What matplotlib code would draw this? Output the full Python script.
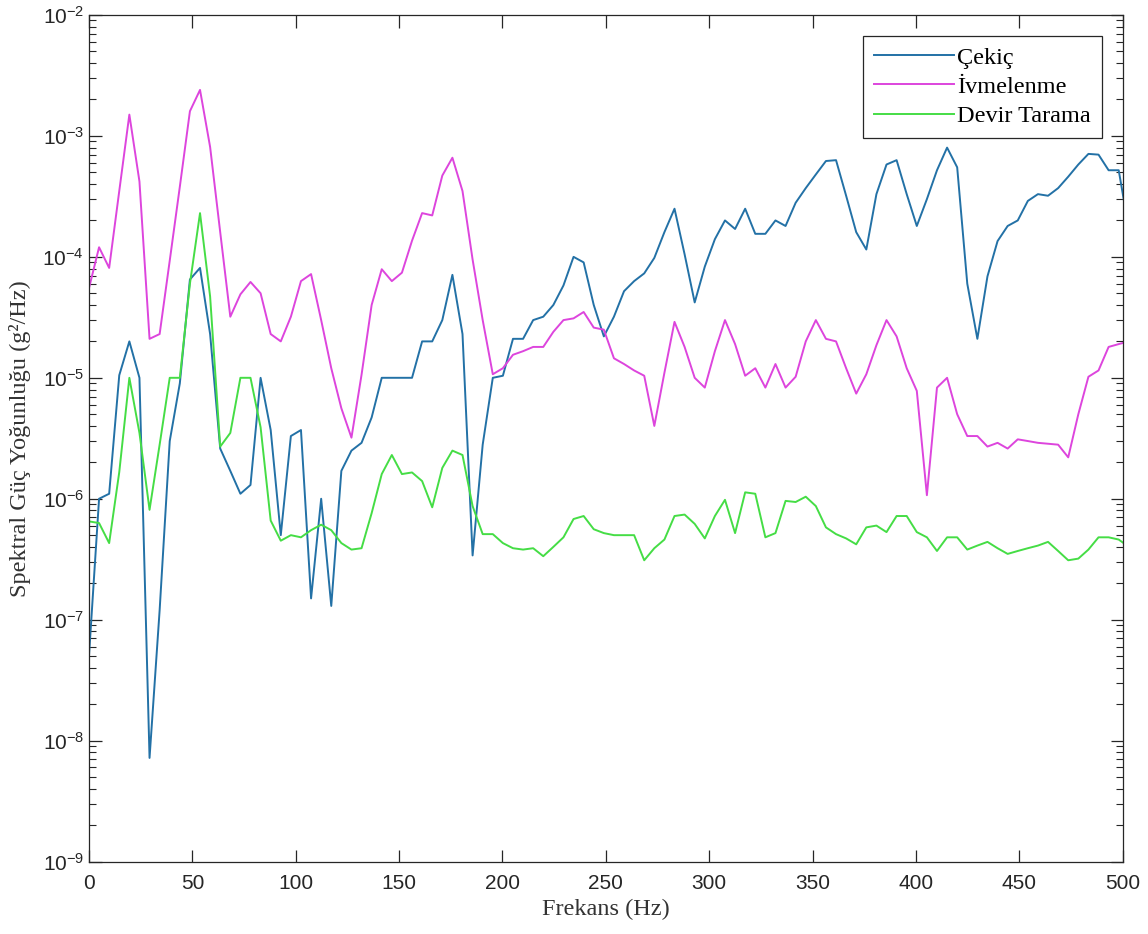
import numpy as np
import matplotlib
matplotlib.use("Agg")
from matplotlib import pyplot as plt
from matplotlib.ticker import LogLocator, NullFormatter

plt.rcParams['font.family'] = ['Liberation Sans', 'DejaVu Sans']
plt.rcParams['mathtext.fontset'] = 'custom'
plt.rcParams['mathtext.rm'] = 'Liberation Sans'
plt.rcParams['mathtext.it'] = 'Liberation Sans:italic'
plt.rcParams['mathtext.bf'] = 'Liberation Sans:bold'

# PSD estimates, one value per FFT bin (df = 5000/1024 Hz)
cekic = [5e-8, 1e-6, 1.1e-6, 1.05e-5, 2e-5, 1e-5, 7.2e-9, 1.2e-7, 3e-6, 9e-6,
         6.5e-5, 8.1e-5, 2.3e-5, 2.6e-6, 1.7e-6, 1.1e-6, 1.3e-6, 1e-5, 3.7e-6, 5e-7,
         3.3e-6, 3.7e-6, 1.5e-7, 1e-6, 1.3e-7, 1.7e-6, 2.5e-6, 2.9e-6, 4.7e-6, 1e-5,
         1e-5, 1e-5, 1e-5, 2e-5, 2e-5, 3e-5, 7.1e-5, 2.3e-5, 3.4e-7, 2.8e-6,
         1e-5, 1.04e-5, 2.1e-5, 2.1e-5, 3e-5, 3.2e-5, 4e-5, 5.8e-5, 1e-4, 9e-5,
         4e-5, 2.2e-5, 3.2e-5, 5.2e-5, 6.3e-5, 7.3e-5, 9.8e-5, 1.6e-4, 2.5e-4, 1.05e-4,
         4.2e-5, 8.3e-5, 1.4e-4, 2e-4, 1.7e-4, 2.5e-4, 1.55e-4, 1.55e-4, 2e-4, 1.8e-4,
         2.8e-4, 3.7e-4, 4.8e-4, 6.2e-4, 6.3e-4, 3.2e-4, 1.6e-4, 1.15e-4, 3.3e-4, 5.8e-4,
         6.3e-4, 3.3e-4, 1.8e-4, 3e-4, 5.2e-4, 8e-4, 5.5e-4, 6e-5, 2.1e-5, 6.9e-5,
         1.35e-4, 1.8e-4, 2e-4, 2.9e-4, 3.3e-4, 3.2e-4, 3.7e-4, 4.6e-4, 5.8e-4, 7.1e-4,
         7e-4, 5.2e-4, 5.2e-4, 1.7e-4]

ivmelenme = [5.5e-5, 1.2e-4, 8.1e-5, 3.5e-4, 1.5e-3, 4.2e-4, 2.1e-5, 2.3e-5, 9.3e-5, 3.8e-4,
             1.6e-3, 2.4e-3, 8.1e-4, 1.6e-4, 3.2e-5, 4.9e-5, 6.2e-5, 5e-5, 2.3e-5, 2e-5,
             3.2e-5, 6.3e-5, 7.2e-5, 3e-5, 1.2e-5, 5.6e-6, 3.2e-6, 1.06e-5, 4e-5, 7.9e-5,
             6.3e-5, 7.4e-5, 1.36e-4, 2.3e-4, 2.2e-4, 4.7e-4, 6.6e-4, 3.5e-4, 9.5e-5, 3e-5,
             1.07e-5, 1.2e-5, 1.55e-5, 1.66e-5, 1.8e-5, 1.8e-5, 2.4e-5, 3e-5, 3.1e-5, 3.5e-5,
             2.6e-5, 2.5e-5, 1.45e-5, 1.3e-5, 1.15e-5, 1.04e-5, 4e-6, 1.1e-5, 2.9e-5, 1.8e-5,
             1e-5, 8.3e-6, 1.66e-5, 3e-5, 1.9e-5, 1.04e-5, 1.2e-5, 8.3e-6, 1.3e-5, 8.3e-6,
             1.02e-5, 2e-5, 3e-5, 2.1e-5, 2e-5, 1.2e-5, 7.4e-6, 1.07e-5, 1.86e-5, 3e-5,
             2.2e-5, 1.2e-5, 7.8e-6, 1.07e-6, 8.3e-6, 1e-5, 5e-6, 3.3e-6, 3.3e-6, 2.7e-6,
             2.9e-6, 2.6e-6, 3.1e-6, 3e-6, 2.9e-6, 2.85e-6, 2.8e-6, 2.2e-6, 5e-6, 1.02e-5,
             1.15e-5, 1.8e-5, 1.9e-5, 2e-5]

devir_tarama = [6.5e-7, 6.3e-7, 4.3e-7, 1.66e-6, 1e-5, 3.5e-6, 8.1e-7, 2.8e-6, 1e-5, 1e-5,
                6e-5, 2.3e-4, 4.7e-5, 2.7e-6, 3.5e-6, 1e-5, 1e-5, 3.9e-6, 6.6e-7, 4.5e-7,
                5e-7, 4.8e-7, 5.5e-7, 6.1e-7, 5.5e-7, 4.3e-7, 3.8e-7, 3.9e-7, 7.6e-7, 1.6e-6,
                2.3e-6, 1.6e-6, 1.65e-6, 1.4e-6, 8.5e-7, 1.8e-6, 2.5e-6, 2.3e-6, 8.7e-7, 5.1e-7,
                5.1e-7, 4.3e-7, 3.9e-7, 3.8e-7, 3.9e-7, 3.35e-7, 4e-7, 4.8e-7, 6.8e-7, 7.2e-7,
                5.6e-7, 5.2e-7, 5e-7, 5e-7, 5e-7, 3.1e-7, 3.9e-7, 4.6e-7, 7.2e-7, 7.4e-7,
                6.2e-7, 4.7e-7, 7.2e-7, 9.8e-7, 5.2e-7, 1.13e-6, 1.1e-6, 4.8e-7, 5.2e-7, 9.6e-7,
                9.4e-7, 1.04e-6, 8.7e-7, 5.8e-7, 5.1e-7, 4.7e-7, 4.2e-7, 5.8e-7, 6e-7, 5.3e-7,
                7.2e-7, 7.2e-7, 5.3e-7, 4.8e-7, 3.7e-7, 4.8e-7, 4.8e-7, 3.8e-7, 4.1e-7, 4.4e-7,
                3.9e-7, 3.5e-7, 3.7e-7, 3.9e-7, 4.1e-7, 4.4e-7, 3.7e-7, 3.1e-7, 3.2e-7, 3.8e-7,
                4.8e-7, 4.8e-7, 4.6e-7, 4e-7]

labels = ['Çekiç', 'İvmelenme', 'Devir Tarama']
colors = ['#2371a6', '#dd45dd', '#45dd45']

df = 5000 / 1024
freq = df * np.arange(len(cekic))

fig = plt.figure(figsize=(11.48, 9.34), dpi=100)
ax = fig.add_axes([0.0775, 0.0775, 0.9005, 0.9065])

for series, lab, col in zip([cekic, ivmelenme, devir_tarama], labels, colors):
  ax.semilogy(freq, series, color=col, lw=1.4, label=lab)

ax.set_xlim(0, 500)
ax.set_ylim(1e-9, 1e-2)
ax.set_xticks(np.arange(0, 501, 50))
ax.yaxis.set_major_locator(LogLocator(base=10, numticks=20))
ax.yaxis.set_minor_locator(LogLocator(base=10, subs=np.arange(2, 10), numticks=100))
ax.yaxis.set_minor_formatter(NullFormatter())

ax.tick_params(which='both', direction='in', top=True, right=True,
               colors='#262626', labelsize=15)
ax.tick_params(which='major', length=9, width=0.9)
ax.tick_params(which='minor', length=5, width=0.8)
ax.tick_params(axis='x', pad=9)
for sp in ax.spines.values():
  sp.set_color('#262626')
  sp.set_linewidth(0.9)

serif = ['Liberation Serif', 'DejaVu Serif']
ax.set_xlabel('Frekans (Hz)', family=serif, fontsize=17.5, color='#333333', labelpad=4)
ax.set_ylabel('Spektral Güç Yoğunluğu (g²/Hz)', family=serif, fontsize=17.5,
              color='#333333', labelpad=8)

leg = ax.legend(loc='upper right', prop={'family': serif, 'size': 17.5},
                fancybox=False, framealpha=1, edgecolor='#262626',
                handlelength=3.3, handletextpad=0.15, labelspacing=0.3,
                borderpad=0.45, borderaxespad=0.85)
leg.get_frame().set_linewidth(0.9)

fig.savefig('out.png', dpi=100)
